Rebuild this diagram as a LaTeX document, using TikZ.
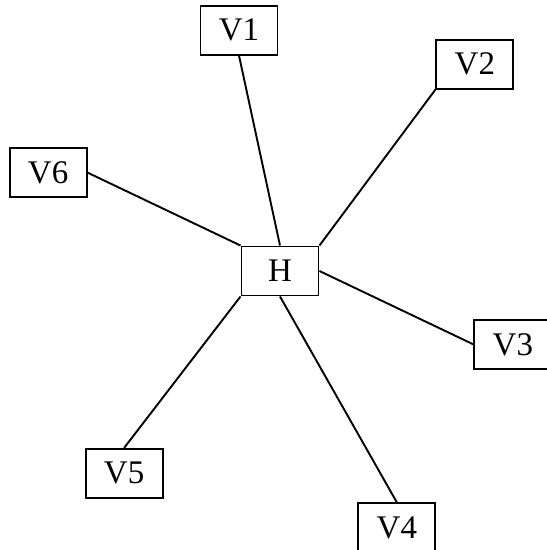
\documentclass[tikz,border=0pt]{standalone}
\usepackage{fontspec}
\setmainfont{Liberation Serif}
\usepackage{tikz}
\usetikzlibrary{positioning}
\begin{document}
\begin{tikzpicture}
    [line width=1.9pt,a/.style={rectangle,draw,minimum width=77pt,minimum height=49pt,inner sep=0pt,font=\fontsize{33}{40}\selectfont}]
    \useasboundingbox (-280pt,-279pt) rectangle (267pt,271pt);
    \node[a] (hh) at (0,0) {H};
    \node[a] (v1) [above=190pt of hh,xshift=-41pt] {V1};
    \node[a] (v2) [above right=156pt and 116pt of hh] {V2};
    \node[a] (v6) [above left=47.5pt and 153pt of hh] {V6};
    \node[a] (v3) [below right=22.5pt and 154pt of hh] {V3};
    \node[a] (v5) [below left=151.5pt and 77pt of hh] {V5};
    \node[a] (v4) [below right=206pt and 38pt of hh] {V4};
    \path[-](v1.south) edge (hh.north)
            (v2.south west) edge (hh.north east)
            (v6.east) edge (hh.north west)
            (v3.west) edge (hh.east)
            (v5.north) edge (hh.south west)
            (v4.north) edge (hh.south);
\end{tikzpicture}
\end{document}
